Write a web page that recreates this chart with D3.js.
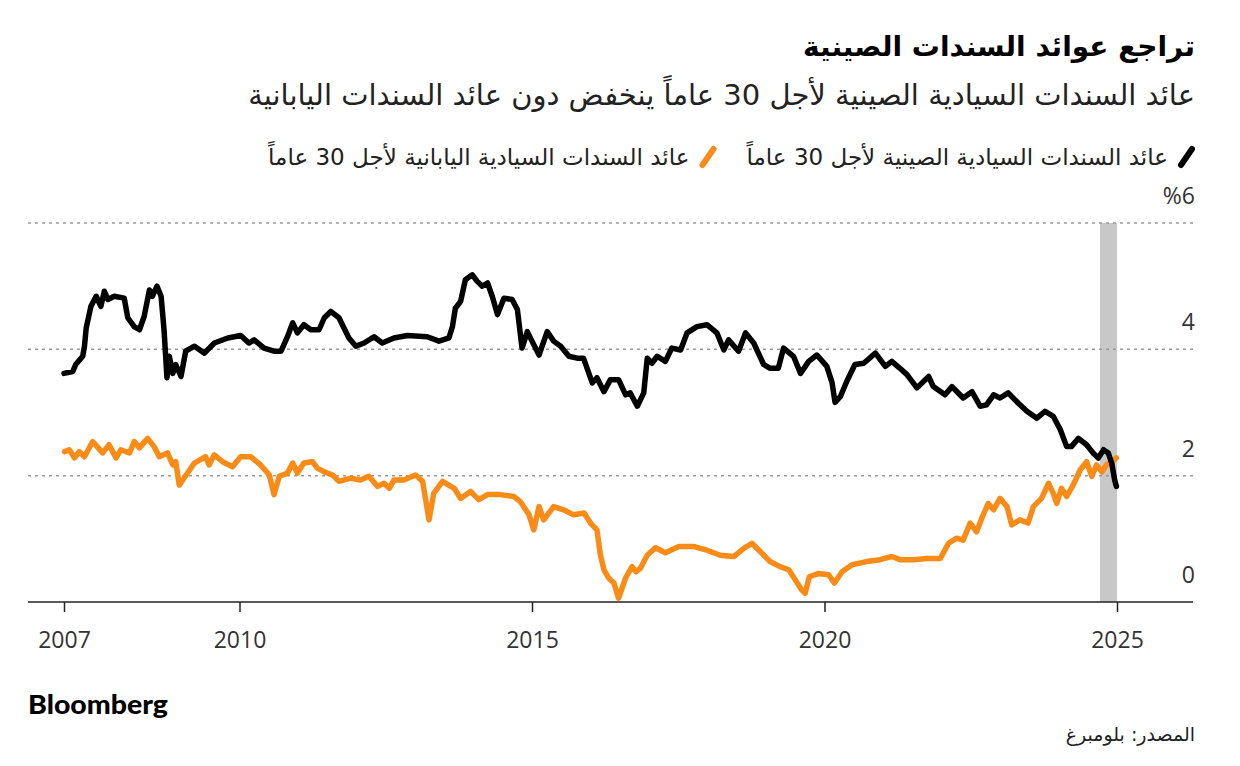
<!DOCTYPE html>
<html lang="ar">
<head>
<meta charset="utf-8">
<script src="https://cdn.jsdelivr.net/npm/d3@7/dist/d3.min.js"></script>
<style>
  html, body { margin: 0; padding: 0; background: #fff; }
  svg { display: block; }
  .ar { font-family: "DejaVu Sans", "Noto Sans", sans-serif; }
</style>
</head>
<body>
<svg id="chart" width="1240" height="766"></svg>
<script>
// ---------- DATA ----------
const titleText = "تراجع عوائد السندات الصينية";
const subtitleText = "عائد السندات السيادية الصينية لأجل 30 عاماً ينخفض دون عائد السندات اليابانية";
const seriesNames = ["عائد السندات السيادية الصينية لأجل 30 عاماً", "عائد السندات السيادية اليابانية لأجل 30 عاماً"];
const seriesColors = ["#000000", "#f98b16"];
const sourceText = "المصدر: بلومبرغ";
const brandText = "Bloomberg";

const xTicks = [2007, 2010, 2015, 2020, 2025];
const yTicks = [0, 2, 4, 6];
const yTickLabels = ["0", "2", "4", "%6"];
const highlightRange = [2024.71, 2025.0];

// China 30-year yield: [decimal year, %]
const chinaYield = [
[2007.00,3.62],[2007.15,3.65],[2007.20,3.76],[2007.32,3.89],[2007.35,4.05],[2007.38,4.34],[2007.46,4.68],
[2007.55,4.84],[2007.63,4.68],[2007.69,4.92],[2007.75,4.79],[2007.86,4.84],[2008.03,4.81],[2008.09,4.50],
[2008.20,4.36],[2008.29,4.31],[2008.37,4.52],[2008.46,4.94],[2008.51,4.84],[2008.59,5.00],[2008.66,4.84],
[2008.71,4.31],[2008.76,3.55],[2008.80,3.89],[2008.86,3.62],[2008.91,3.76],[2009.00,3.57],[2009.08,3.97],
[2009.23,4.05],[2009.40,3.94],[2009.57,4.10],[2009.80,4.18],[2010.02,4.22],[2010.16,4.10],[2010.25,4.15],
[2010.42,4.02],[2010.59,3.97],[2010.71,3.97],[2010.82,4.20],[2010.91,4.42],[2010.99,4.26],[2011.10,4.39],
[2011.22,4.31],[2011.36,4.31],[2011.45,4.50],[2011.56,4.60],[2011.70,4.50],[2011.87,4.18],[2011.99,4.05],
[2012.13,4.10],[2012.30,4.20],[2012.44,4.10],[2012.64,4.18],[2012.87,4.22],[2013.21,4.20],[2013.41,4.13],
[2013.58,4.18],[2013.64,4.36],[2013.69,4.65],[2013.78,4.76],[2013.86,5.10],[2013.98,5.18],[2014.06,5.08],
[2014.15,5.00],[2014.24,5.05],[2014.32,4.84],[2014.41,4.55],[2014.52,4.81],[2014.66,4.79],[2014.75,4.63],
[2014.83,4.02],[2014.92,4.28],[2015.00,4.13],[2015.12,3.91],[2015.26,4.28],[2015.37,4.13],[2015.49,4.05],
[2015.63,3.89],[2015.77,3.86],[2015.88,3.86],[2016.03,3.47],[2016.11,3.55],[2016.23,3.33],[2016.34,3.52],
[2016.48,3.52],[2016.60,3.28],[2016.68,3.31],[2016.80,3.10],[2016.91,3.31],[2016.97,3.86],[2017.05,3.78],
[2017.14,3.89],[2017.28,3.81],[2017.39,4.02],[2017.54,3.99],[2017.65,4.26],[2017.82,4.36],[2017.99,4.39],
[2018.16,4.26],[2018.28,3.99],[2018.36,4.15],[2018.53,3.97],[2018.65,4.26],[2018.79,4.10],[2018.96,3.76],
[2019.07,3.70],[2019.21,3.70],[2019.30,4.02],[2019.47,3.89],[2019.59,3.62],[2019.73,3.81],[2019.87,3.91],
[2020.04,3.73],[2020.13,3.47],[2020.18,3.16],[2020.27,3.25],[2020.38,3.49],[2020.52,3.76],[2020.67,3.78],
[2020.87,3.94],[2021.04,3.73],[2021.15,3.81],[2021.29,3.70],[2021.41,3.60],[2021.58,3.39],[2021.78,3.57],
[2021.86,3.41],[2022.06,3.28],[2022.18,3.41],[2022.37,3.23],[2022.52,3.33],[2022.66,3.10],[2022.77,3.12],
[2022.89,3.28],[2023.00,3.23],[2023.14,3.31],[2023.31,3.15],[2023.46,3.02],[2023.63,2.91],[2023.77,3.02],
[2023.91,2.94],[2024.03,2.73],[2024.14,2.46],[2024.22,2.46],[2024.34,2.59],[2024.48,2.49],[2024.59,2.36],
[2024.68,2.28],[2024.77,2.41],[2024.85,2.36],[2024.91,2.20],[2024.96,1.93],[2024.99,1.83]
];

// Japan 30-year yield: [decimal year, %]
const japanYield = [
[2007.01,2.38],[2007.09,2.41],[2007.18,2.28],[2007.26,2.38],[2007.35,2.30],[2007.49,2.54],[2007.66,2.36],
[2007.77,2.49],[2007.89,2.28],[2007.97,2.41],[2008.12,2.36],[2008.20,2.54],[2008.29,2.44],[2008.43,2.59],
[2008.54,2.46],[2008.63,2.30],[2008.77,2.36],[2008.86,2.17],[2008.91,2.22],[2008.97,1.85],[2009.05,1.96],
[2009.23,2.20],[2009.42,2.30],[2009.48,2.17],[2009.57,2.33],[2009.71,2.22],[2009.88,2.14],[2010.02,2.30],
[2010.19,2.30],[2010.36,2.17],[2010.51,2.01],[2010.59,1.70],[2010.68,1.99],[2010.82,2.04],[2010.91,2.20],
[2010.99,2.04],[2011.10,2.20],[2011.25,2.22],[2011.33,2.12],[2011.45,2.06],[2011.59,2.01],[2011.70,1.91],
[2011.90,1.96],[2012.07,1.93],[2012.21,1.99],[2012.36,1.83],[2012.47,1.88],[2012.56,1.80],[2012.64,1.93],
[2012.81,1.93],[2013.01,2.01],[2013.13,1.91],[2013.24,1.30],[2013.32,1.72],[2013.47,1.91],[2013.67,1.80],
[2013.78,1.64],[2013.95,1.75],[2014.09,1.62],[2014.24,1.70],[2014.46,1.70],[2014.69,1.67],[2014.80,1.59],
[2014.95,1.38],[2015.03,1.14],[2015.12,1.51],[2015.20,1.30],[2015.37,1.51],[2015.54,1.46],[2015.71,1.38],
[2015.89,1.41],[2016.00,1.25],[2016.11,1.14],[2016.17,0.74],[2016.23,0.51],[2016.31,0.38],[2016.40,0.30],
[2016.48,0.06],[2016.60,0.38],[2016.71,0.56],[2016.78,0.48],[2016.85,0.53],[2016.97,0.74],[2017.11,0.86],
[2017.28,0.78],[2017.51,0.88],[2017.76,0.88],[2017.99,0.82],[2018.22,0.74],[2018.45,0.72],[2018.62,0.85],
[2018.76,0.93],[2018.90,0.80],[2019.07,0.64],[2019.24,0.56],[2019.39,0.51],[2019.50,0.35],[2019.61,0.19],
[2019.67,0.14],[2019.74,0.40],[2019.89,0.45],[2020.07,0.43],[2020.17,0.30],[2020.30,0.48],[2020.47,0.59],
[2020.72,0.64],[2020.95,0.67],[2021.15,0.72],[2021.29,0.67],[2021.52,0.67],[2021.75,0.69],[2021.98,0.69],
[2022.12,0.93],[2022.26,1.01],[2022.37,0.98],[2022.49,1.25],[2022.60,1.11],[2022.69,1.33],[2022.80,1.56],
[2022.89,1.46],[2023.00,1.64],[2023.12,1.51],[2023.20,1.22],[2023.34,1.30],[2023.48,1.25],[2023.57,1.51],
[2023.71,1.64],[2023.83,1.88],[2023.91,1.72],[2023.97,1.56],[2024.05,1.80],[2024.14,1.67],[2024.25,1.85],
[2024.37,2.09],[2024.48,2.22],[2024.57,1.99],[2024.65,2.17],[2024.74,2.06],[2024.82,2.17],[2024.91,2.22],
[2024.99,2.28]
];

// ---------- CHART ----------
const svg = d3.select("#chart");
const right = 1195;
const x = d3.scaleLinear().domain([2007, 2025]).range([64, 1117]);
const y = d3.scaleLinear().domain([0, 6]).range([602, 223]);
const gridLeft = 28, gridRight = 1193;

function arText(g, xPos, yPos, size, weight, fill, txt) {
  return g.append("text").attr("class", "ar")
    .attr("x", xPos).attr("y", yPos)
    .attr("direction", "rtl").style("direction", "rtl").style("unicode-bidi", "embed")
    .attr("text-anchor", "start")
    .style("font-size", size + "px").style("font-weight", weight)
    .attr("fill", fill).text(txt);
}

// Title & subtitle
arText(svg, right, 56, 28, "bold", "#000", titleText);
arText(svg, right, 105, 29, "normal", "#222", subtitleText);

// Legend
const legendY = 165;
const leg = svg.append("g");
let lx = right;
seriesNames.forEach((name, i) => {
  leg.append("line")
    .attr("x1", lx - 14).attr("y1", legendY)
    .attr("x2", lx - 3).attr("y2", legendY - 16)
    .attr("stroke", seriesColors[i]).attr("stroke-width", 6).attr("stroke-linecap", "round");
  const t = arText(leg, lx - 27, legendY, 23, "normal", "#222", name);
  const w = t.node().getComputedTextLength();
  lx = lx - 27 - w - 30;
});

// Highlight band
svg.append("rect")
  .attr("x", x(highlightRange[0])).attr("y", y(6))
  .attr("width", x(highlightRange[1]) - x(highlightRange[0]))
  .attr("height", y(0) - y(6))
  .attr("fill", "#c8c8c8");

// Gridlines
svg.append("g").selectAll("line").data(yTicks.filter(d => d > 0)).join("line")
  .attr("x1", gridLeft).attr("x2", gridRight)
  .attr("y1", d => y(d)).attr("y2", d => y(d))
  .attr("stroke", "#9a9a9a").attr("stroke-width", 1.5).attr("stroke-dasharray", "3,4");

// Y labels (above gridlines, right)
svg.append("g").selectAll("text").data(yTicks).join("text")
  .attr("x", right).attr("y", d => y(d) - 19)
  .attr("text-anchor", "end")
  .style("font-family", "'Open Sans', 'DejaVu Sans', sans-serif")
  .style("font-size", "23px").attr("fill", "#333")
  .text((d, i) => yTickLabels[i]);

// Lines
const line = d3.line().x(d => x(d[0])).y(d => y(d[1])).curve(d3.curveLinear);
svg.append("path").datum(japanYield).attr("d", line)
  .attr("fill", "none").attr("stroke", seriesColors[1]).attr("stroke-width", 5.5)
  .attr("stroke-linejoin", "round").attr("stroke-linecap", "round");
svg.append("path").datum(chinaYield).attr("d", line)
  .attr("fill", "none").attr("stroke", seriesColors[0]).attr("stroke-width", 5.5)
  .attr("stroke-linejoin", "round").attr("stroke-linecap", "round");

// X axis
svg.append("line").attr("x1", gridLeft).attr("x2", gridRight)
  .attr("y1", y(0)).attr("y2", y(0)).attr("stroke", "#222").attr("stroke-width", 1.5);
const xAxis = d3.axisBottom(x).tickValues(xTicks).tickFormat(d3.format("d")).tickSize(10).tickPadding(20);
const gx = svg.append("g").attr("transform", `translate(0,${y(0)})`).call(xAxis);
gx.select(".domain").remove();
gx.selectAll(".tick line").attr("stroke", "#222").attr("stroke-width", 1.5);
gx.selectAll(".tick text")
  .style("font-family", "'Open Sans', 'DejaVu Sans', sans-serif")
  .style("font-size", "23px").attr("fill", "#333");

// Footer
svg.append("text").attr("x", 28).attr("y", 714)
  .attr("textLength", 140).attr("lengthAdjust", "spacingAndGlyphs")
  .style("font-family", "Lato, 'Open Sans', sans-serif").style("font-weight", "900")
  .style("font-size", "26px").attr("fill", "#000").text(brandText);
arText(svg, right, 741, 19, "normal", "#222", sourceText);
</script>
</body>
</html>
